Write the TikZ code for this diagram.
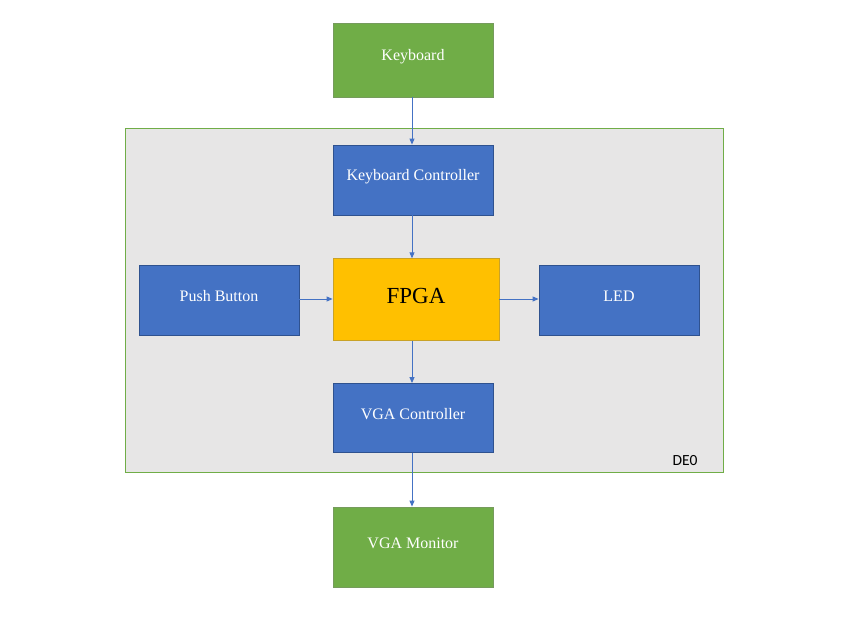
\documentclass[tikz,border=0pt]{standalone}
\usepackage{fontspec}
\setmainfont{Liberation Serif}
\newfontfamily\calibfont{Carlito}
\usetikzlibrary{arrows.meta}
\definecolor{grnF}{HTML}{70AD47}
\definecolor{grnD}{HTML}{548235}
\definecolor{bluF}{HTML}{4472C4}
\definecolor{bluD}{HTML}{2F528F}
\definecolor{yelF}{HTML}{FFC000}
\definecolor{yelD}{HTML}{C9A227}
\definecolor{grayF}{HTML}{E7E6E6}
\newcommand\liftT[1]{\raisebox{3.5pt}[\height][\depth]{#1}}
\begin{document}
\begin{tikzpicture}[x=1pt,y=-1pt,
  blk/.style={rectangle, draw, line width=0.8pt, inner sep=0pt, text=white,
    font=\fontsize{16}{18}\selectfont, minimum width=160pt, minimum height=70pt},
  gblk/.style={blk, fill=grnF, draw=grnD!80},
  bblk/.style={blk, fill=bluF, draw=bluD},
  yblk/.style={blk, fill=yelF, draw=yelD, text=black, font=\fontsize{23}{26}\selectfont},
  conn/.style={draw=bluF, line width=0.9pt, -{Triangle[length=6pt,width=5pt]}}
]
\useasboundingbox (0,0) rectangle (864,626);
\fill[white] (0,0) rectangle (864,626);
\node[draw=grnF, fill=grayF, line width=0.8pt, minimum width=598pt, minimum height=343.5pt, inner sep=0pt, anchor=north west] (de0) at (125,128) {};
\node[font=\calibfont\fontsize{15.5}{17}\selectfont, text=black, inner sep=0pt] (de0lbl) at (685,461) {DE0};
\node[gblk, minimum height=74pt] (kb) at (413,60) {\liftT{Keyboard}};
\node[bblk] (kc) at (413,180) {\liftT{Keyboard Controller}};
\node[yblk, minimum width=166pt, minimum height=82pt] (fpga) at (416,299.7) {\liftT{FPGA}};
\node[bblk] (pb) at (219,300) {\liftT{Push Button}};
\node[bblk] (led) at (619,300) {\liftT{LED}};
\node[bblk, minimum height=69pt] (vgac) at (413,418) {\liftT{VGA Controller}};
\node[gblk, minimum height=80pt] (vgam) at (413,547) {\liftT{VGA Monitor}};
\coordinate (fx) at (412,0);
\draw[conn] (kb.south -| fx) -- (kc.north -| fx);
\draw[conn] (kc.south -| fx) -- (fpga.north -| fx);
\draw[conn] (fpga.south -| fx) -- (vgac.north -| fx);
\draw[conn] (vgac.south -| fx) -- (vgam.north -| fx);
\draw[conn] (pb.east |- 0,299) -- (fpga.west |- 0,299);
\draw[conn] (fpga.east |- 0,299) -- (led.west |- 0,299);
\end{tikzpicture}
\end{document}
